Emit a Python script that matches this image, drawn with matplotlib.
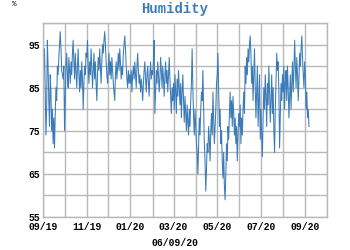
import matplotlib
matplotlib.use("Agg")
import matplotlib.pyplot as plt
import matplotlib.dates as mdates
import numpy as np
import pandas as pd

start_date = "2019-09-01"
sep19 = [78, 92, 94, 85, 74, 80, 96, 90, 82, 76, 88, 84, 75, 80, 72, 78, 71, 79, 85, 82, 90, 88, 92, 95, 98, 94, 89, 88, 87, 90]
oct19 = [75, 83, 90, 93, 88, 85, 92, 89, 86, 91, 88, 93, 96, 91, 87, 93, 89, 85, 90, 94, 88, 84, 89, 85, 91, 87, 80, 86, 90, 88, 93]
nov19 = [92, 96, 90, 86, 91, 88, 94, 90, 85, 89, 93, 87, 91, 86, 82, 88, 92, 89, 94, 90, 86, 91, 95, 93, 96, 98, 95, 91, 88, 86]
dec19 = [90, 93, 88, 91, 87, 92, 89, 86, 84, 82, 88, 91, 87, 90, 93, 89, 94, 91, 87, 90, 88, 93, 95, 97, 94, 90, 87, 85, 89, 86, 88]
jan20 = [86, 89, 84, 88, 90, 87, 91, 88, 85, 90, 93, 89, 86, 88, 84, 87, 85, 82, 86, 89, 91, 87, 84, 88, 90, 86, 83, 88, 91, 87, 89]
feb20 = [88, 91, 96, 79, 84, 89, 86, 91, 88, 84, 87, 92, 89, 85, 90, 87, 83, 88, 91, 86, 89, 84, 88, 92, 87, 83, 79, 85, 82]
mar20 = [86, 80, 88, 84, 79, 87, 83, 89, 85, 81, 86, 78, 84, 88, 82, 77, 83, 79, 75, 81, 77, 74, 80, 76, 82, 86, 94, 85, 78, 74, 80]
apr20 = [76, 72, 70, 65, 72, 78, 74, 80, 84, 82, 89, 80, 72, 68, 61, 66, 72, 70, 76, 73, 68, 75, 79, 74, 84, 78, 72, 76, 80, 86]
may20 = [88, 93, 84, 76, 80, 72, 75, 68, 64, 70, 62, 59, 65, 72, 68, 76, 73, 79, 84, 78, 82, 76, 83, 79, 74, 78, 72, 76, 68, 74, 79]
jun20 = [76, 81, 72, 78, 74, 80, 84, 79, 90, 86, 92, 88, 94, 91, 95, 97, 93, 86, 90, 82, 88, 94, 85, 78, 84, 90, 76, 82, 88, 73]
jul20 = [80, 74, 69, 78, 85, 80, 88, 83, 76, 86, 81, 90, 84, 77, 82, 88, 79, 85, 75, 70, 80, 87, 93, 89, 91, 84, 71, 78, 86, 82, 88]
aug20 = [84, 90, 80, 86, 89, 82, 90, 85, 78, 83, 88, 80, 86, 91, 84, 89, 96, 90, 85, 92, 88, 82, 87, 93, 90, 94, 97, 92, 88, 85, 91]
sep20 = [88, 80, 84, 78, 80, 76]

humidity = sep19 + oct19 + nov19 + dec19 + jan20 + feb20 + mar20 + apr20 + may20 + jun20 + jul20 + aug20 + sep20
dates = pd.date_range(start_date, periods=len(humidity), freq="D")

y_ticks = [55, 65, 75, 85, 95]
title = "Humidity"
unit = "%"
date_label = "06/09/20"

mono = "Liberation Mono"
fig = plt.figure(figsize=(3.5, 2.5), dpi=100)
ax = fig.add_axes([0.123, 0.132, 0.811, 0.776])
ax.plot(dates, humidity, color="#3b7cb8", linewidth=0.75)

ax.set_xlim(pd.Timestamp("2019-09-01"), pd.Timestamp("2020-10-01"))
ax.set_ylim(55, 100)
ax.set_yticks(y_ticks)
ax.set_yticks([60, 70, 80, 90, 100], minor=True)
ax.xaxis.set_major_locator(mdates.MonthLocator(bymonth=[1, 3, 5, 7, 9, 11]))
ax.xaxis.set_minor_locator(mdates.MonthLocator())
ax.xaxis.set_major_formatter(mdates.DateFormatter("%m/%y"))
ax.grid(True, which="both", color="#b8b8b8", linewidth=1.0)
ax.set_axisbelow(True)
for s in ax.spines.values():
    s.set_color("#b8b8b8")
    s.set_linewidth(1.0)
ax.tick_params(axis="x", which="both", length=0, pad=3.5)
ax.tick_params(axis="y", which="both", length=0, pad=2)
for lab in ax.get_xticklabels() + ax.get_yticklabels():
    lab.set_fontfamily(mono)
    lab.set_fontweight("bold")
    lab.set_fontsize(7)

fig.text(0.5, 0.965, title, ha="center", va="center", fontfamily=mono,
         fontweight="bold", fontsize=10, color="#3b7cb8")
fig.text(0.034, 0.98, unit, ha="left", va="center", fontfamily=mono, fontsize=5.5)
fig.text(0.5, 0.028, date_label, ha="center", va="center", fontfamily=mono,
         fontweight="bold", fontsize=7)

fig.savefig("out.png", dpi=100)
